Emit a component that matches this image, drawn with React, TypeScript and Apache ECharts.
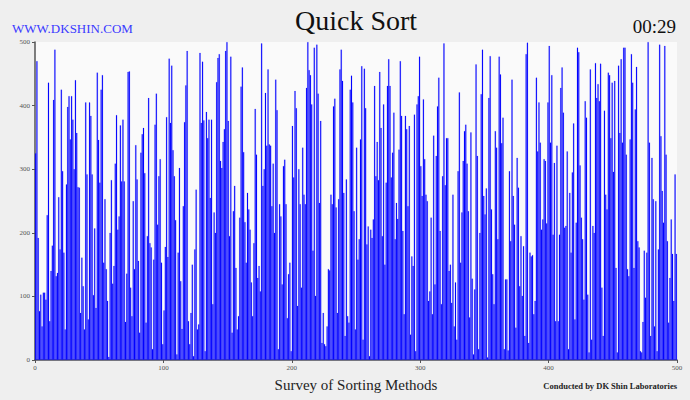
import React, { useEffect, useRef } from "react";
import * as echarts from "echarts";

// Bar heights, left to right, in segments of the x range
const seg0 = [325,470,192,77,103,53,106,106,95,228,436,61,140,180,409,488,132,137,256,174,425,297,169,48,276,398,415,347,415,378,300,440,357,272,271,74,161,116,48,405,292,64,405,384,292];
const seg1 = [102,207,82,452,346,279,425,448,153,253,143,93,5,200,283,120,148,309,385,205,226,369,281,378,281,60,136,453,454,114,69,250,143,338,284,156,43,326,355,365,294,59,195,412,184,177];
const seg2 = [17,158,370,419,213,289,316,153,25,78,178,382,162,474,373,463,330,289,220,9,169,302,124,49,242,374,432,486,61,25,74,150,6,174,268,48,56,483,373,469,377,14,390,349,378,255];
const seg3 = [378,88,232,200,437,475,481,313,302,343,363,486,500,376,195,477,43,234,274,145,48,69,224,430,460,327,217,153,263,237,205,122,69,184,395,323,129,148,108,498,274,300,420,337,457,339];
const seg4 = [337,242,309,200,441,393,17,245,226,119,305,315,245,66,135,153,14,368,287,423,396,85,300,245,114,334,260,245,428,500,456,448,402,172,491,101,496,419,247,376,27,74,25,22,53,143];
const seg5 = [141,260,245,399,411,240,74,253,457,488,439,263,38,284,69,59,425,447,405,234,48,334,158,190,347,462,32,458,396,182,210,6,205,192,221,431,289,343,283,453,365,195,402,150,279,431];
const seg6 = [473,431,287,326,389,190,247,222,331,470,384,203,72,384,363,242,368,40,163,148,386,14,402,415,477,305,258,410,316,260,250,93,108,224,72,353,119,321,399,444,203,88,289,498,275,349];
const seg7 = [349,140,150,90,260,53,122,32,297,421,153,232,313,360,370,309,234,67,358,128,9,111,465,321,17,200,418,488,258,229,270,4,412,478,237,135,88,360,334,190,477,449,341,381,17,127];
const seg8 = [127,15,297,187,441,258,213,51,318,271,116,195,101,179,38,481,499,27,169,163,165,72,93,444,328,405,342,205,221,316,313,215,405,494,342,448,197,310,61,337,61,197,428,460,389,208];
const seg9 = [211,328,17,263,169,295,372,64,216,491,484,306,224,190,95,407,381,103,12,457,32,211,200,467,412,434,407,466,114,38,392,260,237,452,448,349,436,296,439,145,12,463,357,473,342,491];
const seg10 = [491,323,143,132,347,481,436,145,394,461,187,177,14,12,60,172,98,169,500,342,38,318,253,53,250,14,174,496,352,266,216,494,323,187,59,129,221,167,93,292,167];

const values: number[] = [
  ...seg0, ...seg1, ...seg2, ...seg3, ...seg4, ...seg5,
  ...seg6, ...seg7, ...seg8, ...seg9, ...seg10,
];
const categories = values.map((_, i) => String(i));

const xTicks = { min: 0, max: 500, interval: 100 };
const yTicks = { min: 0, max: 500, interval: 100 };

const siteText = "WWW.DKSHIN.COM";
const titleText = "Quick Sort";
const timerText = "00:29";
const xTitleText = "Survey of Sorting Methods";
const creditText = "Conducted by DK Shin Laboratories";

const serif = "'Liberation Serif', 'DejaVu Serif', serif";

export default function App() {
  const ref = useRef<HTMLDivElement>(null);
  useEffect(() => {
    if (!ref.current) return;
    const chart = echarts.init(ref.current, undefined, { renderer: "svg" });
    const axisLine = { show: true, lineStyle: { color: "#555", width: 1.5 } };
    chart.setOption({
      animation: false,
      backgroundColor: "#efefef",
      grid: {
        left: 35, right: 13, top: 42, bottom: 40,
        show: true, backgroundColor: "#fafafa", borderWidth: 0,
      },
      xAxis: [
        {
          type: "category", data: categories, show: false, position: "bottom",
          boundaryGap: true,
        },
        {
          type: "value", position: "bottom", min: xTicks.min, max: xTicks.max,
          interval: xTicks.interval,
          axisLine, axisTick: { show: true, length: 3, lineStyle: { color: "#555" } },
          splitLine: { show: false },
          axisLabel: { fontSize: 7, color: "#555", fontFamily: serif, margin: 4 },
        },
      ],
      yAxis: {
        type: "value", min: yTicks.min, max: yTicks.max, interval: yTicks.interval,
        axisLine, axisTick: { show: true, length: 3, lineStyle: { color: "#555" } },
        splitLine: { show: false },
        axisLabel: { fontSize: 7, color: "#555", fontFamily: serif, margin: 5 },
      },
      series: [
        {
          type: "bar", xAxisIndex: 0, data: values,
          barCategoryGap: "0%", barGap: "0%",
          itemStyle: { color: "#0000ff", borderColor: "rgba(0,0,255,0.5)", borderWidth: 0.3 },
          emphasis: { disabled: true },
        },
      ],
      graphic: [
        { type: "text", left: 12, top: 22, style: { text: siteText, font: `13px ${serif}`, fill: "#3a3aff" } },
        { type: "text", x: 356, y: 20, style: { text: titleText, font: `28px ${serif}`, fill: "#111", align: "center", verticalAlign: "middle" } },
        { type: "text", right: 14, top: 17, style: { text: timerText, font: `19px ${serif}`, fill: "#111" } },
        { type: "text", x: 356, y: 385, style: { text: xTitleText, font: `15px ${serif}`, fill: "#222", align: "center", verticalAlign: "middle" } },
        { type: "text", right: 13, top: 381, style: { text: creditText, font: `bold 8.5px ${serif}`, fill: "#222" } },
      ],
    });
    return () => chart.dispose();
  }, []);
  return (
    <div
      ref={ref}
      style={{ position: "fixed", left: 0, top: 0, width: 690, height: 400 }}
    />
  );
}
